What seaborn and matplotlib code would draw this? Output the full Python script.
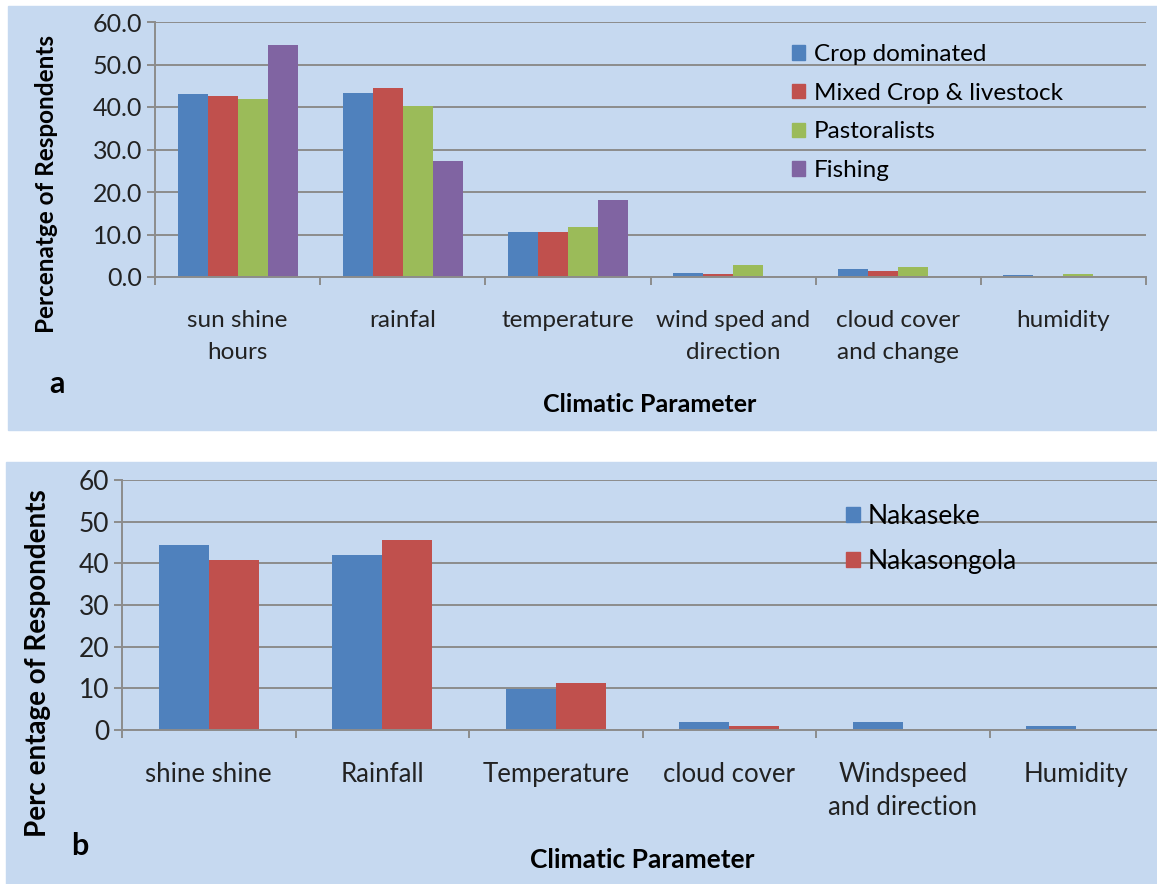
import matplotlib
matplotlib.use("Agg")
import numpy as np
import pandas as pd
import seaborn as sns
import matplotlib.pyplot as plt
from matplotlib.patches import Rectangle, Patch

# panel a data
params_a = ["sun shine\nhours", "rainfal", "temperature", "wind sped and\ndirection",
            "cloud cover\nand change", "humidity"]
groups_a = ["Crop dominated", "Mixed Crop & livestock", "Pastoralists", "Fishing"]
crop = [43.0, 43.2, 10.5, 1.0, 1.8, 0.5]
mixed = [42.7, 44.5, 10.5, 0.7, 1.3, 0.0]
past = [41.8, 40.2, 11.7, 2.8, 2.4, 0.8]
fish = [54.6, 27.4, 18.2, 0.0, 0.0, 0.0]

# panel b data
params_b = ["shine shine", "Rainfall", "Temperature", "cloud cover",
            "Windspeed\nand direction", "Humidity"]
groups_b = ["Nakaseke", "Nakasongola"]
nakaseke = [44.3, 42.0, 9.9, 1.9, 1.9, 1.0]
nakasongola = [40.7, 45.5, 11.3, 1.0, 0.0, 0.0]

colors_a = ["#4F81BD", "#C0504D", "#9BBB59", "#8064A2"]
colors_b = ["#4F81BD", "#C0504D"]
bg = "#C6D9F0"
grid = "#8C8C8C"

df_a = pd.DataFrame({
    "param": params_a * 4,
    "group": np.repeat(groups_a, 6),
    "value": crop + mixed + past + fish,
})
df_b = pd.DataFrame({
    "param": params_b * 2,
    "group": np.repeat(groups_b, 6),
    "value": nakaseke + nakasongola,
})

plt.rcParams["font.family"] = ["Lato", "DejaVu Sans"]
W, H = 1157, 884
fig = plt.figure(figsize=(W / 100, H / 100), dpi=100)

# panel backgrounds (behind the axes)
fig.patches.append(Rectangle((8 / W, 1 - 430 / H), 1, 424 / H, transform=fig.transFigure,
                             color=bg, zorder=-5))
fig.patches.append(Rectangle((6 / W, 0), 1, 422 / H, transform=fig.transFigure,
                             color=bg, zorder=-5))


def style_axes(ax, fmt, ncat, ysize):
    ax.set_facecolor("none")
    ax.set_ylim(0, 60)
    ax.set_xlim(-0.5, ncat - 0.5)
    ax.set_yticks(range(0, 61, 10))
    ax.set_yticklabels([fmt % v for v in range(0, 61, 10)])
    ax.yaxis.grid(True, color=grid, lw=1.4)
    ax.set_axisbelow(True)
    for s in ["top", "right"]:
        ax.spines[s].set_visible(False)
    for s in ["left", "bottom"]:
        ax.spines[s].set_color(grid)
        ax.spines[s].set_linewidth(1.4)
    ax.tick_params(axis="y", length=6, width=1.4, color=grid, labelsize=ysize,
                   labelcolor="#222222", pad=3)
    ax.set_xticks(np.arange(-0.5, ncat), minor=True)
    ax.tick_params(axis="x", which="minor", length=6, width=1.4, color=grid)
    ax.set_xlabel("")
    ax.set_ylabel("")


# ---- panel a
ax1 = fig.add_axes([155 / W, 1 - 277 / H, 991 / W, 255 / H])
sns.barplot(data=df_a, x="param", y="value", hue="group", palette=colors_a,
            width=0.727, gap=0, linewidth=0, saturation=1, ax=ax1, legend=False)
style_axes(ax1, "%.1f", 6, 18)
ax1.tick_params(axis="x", which="major", length=0, labelsize=17.5, pad=24,
                labelcolor="#222222")
for t in ax1.get_xticklabels():
    t.set_linespacing(1.65)
h1 = [Patch(color=c) for c in colors_a]
ax1.legend(h1, groups_a, loc="upper left", bbox_to_anchor=(792 / W, 1 - 44 / H),
           bbox_transform=fig.transFigure, frameon=False, fontsize=17.5,
           borderpad=0, borderaxespad=0,
           handlelength=0.55, handleheight=0.55, handletextpad=0.35, labelspacing=0.73)

fig.text(47 / W, 1 - 184 / H, "Percenatge of Respondents", rotation=90, ha="center",
         va="center", fontsize=17.5, fontweight="bold")
fig.text(650 / W, 1 - 405 / H, "Climatic Parameter", ha="center", va="center",
         fontsize=18, fontweight="bold")
fig.text(57 / W, 1 - 384 / H, "a", ha="center", va="center", fontsize=22,
         fontweight="bold")

# ---- panel b
ax2 = fig.add_axes([122 / W, 1 - 730 / H, 1041 / W, 250 / H])
sns.barplot(data=df_b, x="param", y="value", hue="group", palette=colors_b,
            width=0.577, gap=0, linewidth=0, saturation=1, ax=ax2, legend=False)
style_axes(ax2, "%d", 6, 19)
ax2.tick_params(axis="x", which="major", length=0, labelsize=18.5, pad=23,
                labelcolor="#222222")
for t in ax2.get_xticklabels():
    t.set_linespacing(1.38)
h2 = [Patch(color=c) for c in colors_b]
ax2.legend(h2, groups_b, loc="upper left", bbox_to_anchor=(846 / W, 1 - 504 / H),
           bbox_transform=fig.transFigure, frameon=False, fontsize=19,
           borderpad=0, borderaxespad=0,
           handlelength=0.53, handleheight=0.53, handletextpad=0.3, labelspacing=0.75)

fig.text(38 / W, 1 - 663 / H, "Perc entage of Respondents", rotation=90, ha="center",
         va="center", fontsize=20, fontweight="bold")
fig.text(642 / W, 1 - 860 / H, "Climatic Parameter", ha="center", va="center",
         fontsize=19, fontweight="bold")
fig.text(80 / W, 1 - 846 / H, "b", ha="center", va="center", fontsize=22,
         fontweight="bold")

fig.savefig("out.png", dpi=100, facecolor="white")
